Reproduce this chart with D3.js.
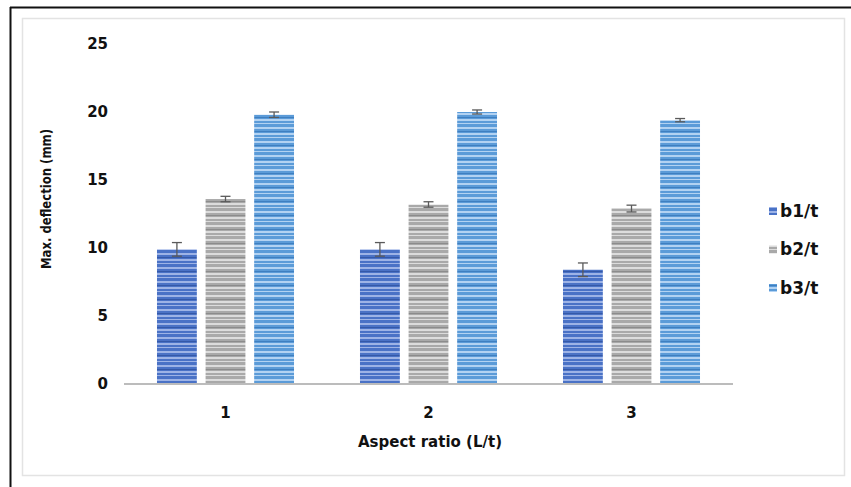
<!DOCTYPE html>
<html><head><meta charset="utf-8">
<script src="https://cdn.jsdelivr.net/npm/d3@7/dist/d3.min.js"></script>
<style>body{margin:0;background:#fff}svg{display:block}</style>
</head><body>
<script>
const categories = ["1", "2", "3"];
const seriesNames = ["b1/t", "b2/t", "b3/t"];
const b1 = [9.9, 9.9, 8.4];
const b2 = [13.6, 13.2, 12.9];
const b3 = [19.8, 20.0, 19.4];
const b1Err = [0.5, 0.5, 0.5];
const b2Err = [0.2, 0.2, 0.25];
const b3Err = [0.2, 0.15, 0.12];
const yTicks = [0, 5, 10, 15, 20, 25];

const W = 851, H = 487;
const svg = d3.select("body").append("svg").attr("width", W).attr("height", H);
const font = "'DejaVu Sans', Verdana, sans-serif";

// frames
svg.append("line").attr("x1",10).attr("x2",W).attr("y1",7.5).attr("y2",7.5).attr("stroke","#111").attr("stroke-width",2);
svg.append("line").attr("x1",10.5).attr("x2",10.5).attr("y1",7).attr("y2",H).attr("stroke","#111").attr("stroke-width",2);
svg.append("rect").attr("x",22.5).attr("y",18.5).attr("width",822).attr("height",457).attr("fill","#fff").attr("stroke","#e3e3e3").attr("stroke-width",1.5);

const colors = [
  {base:"#4a72c6", light:"#9db3e6", dark:"#3559a8"},
  {base:"#a9a9a9", light:"#dcdcdc", dark:"#8c8c8c"},
  {base:"#5b9bd8", light:"#b2d2f2", dark:"#3f7fc0"}
];
const defs = svg.append("defs");
colors.forEach((c,i)=>{
  const p = defs.append("pattern").attr("id","pat"+i).attr("patternUnits","userSpaceOnUse")
    .attr("width",40).attr("height",14);
  p.append("rect").attr("width",40).attr("height",14).attr("fill",c.base);
  p.append("rect").attr("y",1).attr("width",40).attr("height",2).attr("fill",c.light);
  p.append("rect").attr("y",5).attr("width",40).attr("height",1).attr("fill",c.dark);
  p.append("rect").attr("y",7).attr("width",40).attr("height",2).attr("fill",c.light);
  p.append("rect").attr("y",11).attr("width",40).attr("height",1).attr("fill",c.light);
});

const y = d3.scaleLinear().domain([0,25]).range([384,44]);
const x0 = d3.scaleBand().domain(categories).range([124,733]).paddingInner(0.325).paddingOuter(0.1625);
const x1 = d3.scaleBand().domain(seriesNames).range([0,x0.bandwidth()]).paddingInner(0.18);

const series = [b1,b2,b3], errs = [b1Err,b2Err,b3Err];
const data = [];
categories.forEach((c,ci)=>seriesNames.forEach((s,si)=>data.push({c,s,si,v:series[si][ci],e:errs[si][ci]})));

// y labels
svg.append("g").selectAll("text").data(yTicks).join("text")
  .attr("x",108).attr("y",d=>y(d)).attr("dy","0.35em").attr("text-anchor","end")
  .attr("font-family",font).attr("font-weight","bold").attr("font-size",15).attr("fill","#111").text(d=>d);

// bars
svg.append("g").selectAll("rect").data(data).join("rect")
  .attr("x",d=>x0(d.c)+x1(d.s)).attr("y",d=>y(d.v))
  .attr("width",x1.bandwidth()).attr("height",d=>y(0)-y(d.v))
  .attr("fill",d=>`url(#pat${d.si})`);

// axis line
svg.append("line").attr("x1",124).attr("x2",733).attr("y1",y(0)).attr("y2",y(0)).attr("stroke","#bcbcbc").attr("stroke-width",2);

// error bars
const eg = svg.append("g").attr("stroke","#5a5a5a").attr("stroke-width",1.3);
data.forEach(d=>{
  const cx = x0(d.c)+x1(d.s)+x1.bandwidth()/2;
  eg.append("line").attr("x1",cx).attr("x2",cx).attr("y1",y(d.v-d.e)).attr("y2",y(d.v+d.e));
  eg.append("line").attr("x1",cx-5).attr("x2",cx+5).attr("y1",y(d.v+d.e)).attr("y2",y(d.v+d.e));
  eg.append("line").attr("x1",cx-5).attr("x2",cx+5).attr("y1",y(d.v-d.e)).attr("y2",y(d.v-d.e));
});

// x labels
svg.append("g").selectAll("text").data(categories).join("text")
  .attr("x",d=>x0(d)+x0.bandwidth()/2).attr("y",418).attr("text-anchor","middle")
  .attr("font-family",font).attr("font-weight","bold").attr("font-size",15).attr("fill","#111").text(d=>d);

svg.append("text").attr("x",430).attr("y",447).attr("text-anchor","middle")
  .attr("font-family",font).attr("font-weight","bold").attr("font-size",15).attr("fill","#111").text("Aspect ratio (L/t)");
svg.append("text").attr("transform","translate(51,199) rotate(-90)").attr("text-anchor","middle")
  .attr("font-family",font).attr("font-weight","bold").attr("font-size",14)
  .attr("textLength",140).attr("lengthAdjust","spacingAndGlyphs").attr("fill","#111").text("Max. deflection (mm)");

// legend
const lg = svg.append("g");
seriesNames.forEach((s,i)=>{
  const ly = 211 + i*38.5;
  lg.append("rect").attr("x",769).attr("y",ly-4).attr("width",8).attr("height",8).attr("fill",`url(#pat${i})`);
  lg.append("text").attr("x",780).attr("y",ly).attr("dy","0.35em")
    .attr("font-family",font).attr("font-weight","bold").attr("font-size",17).attr("fill","#111").text(s);
});
</script>
</body></html>
